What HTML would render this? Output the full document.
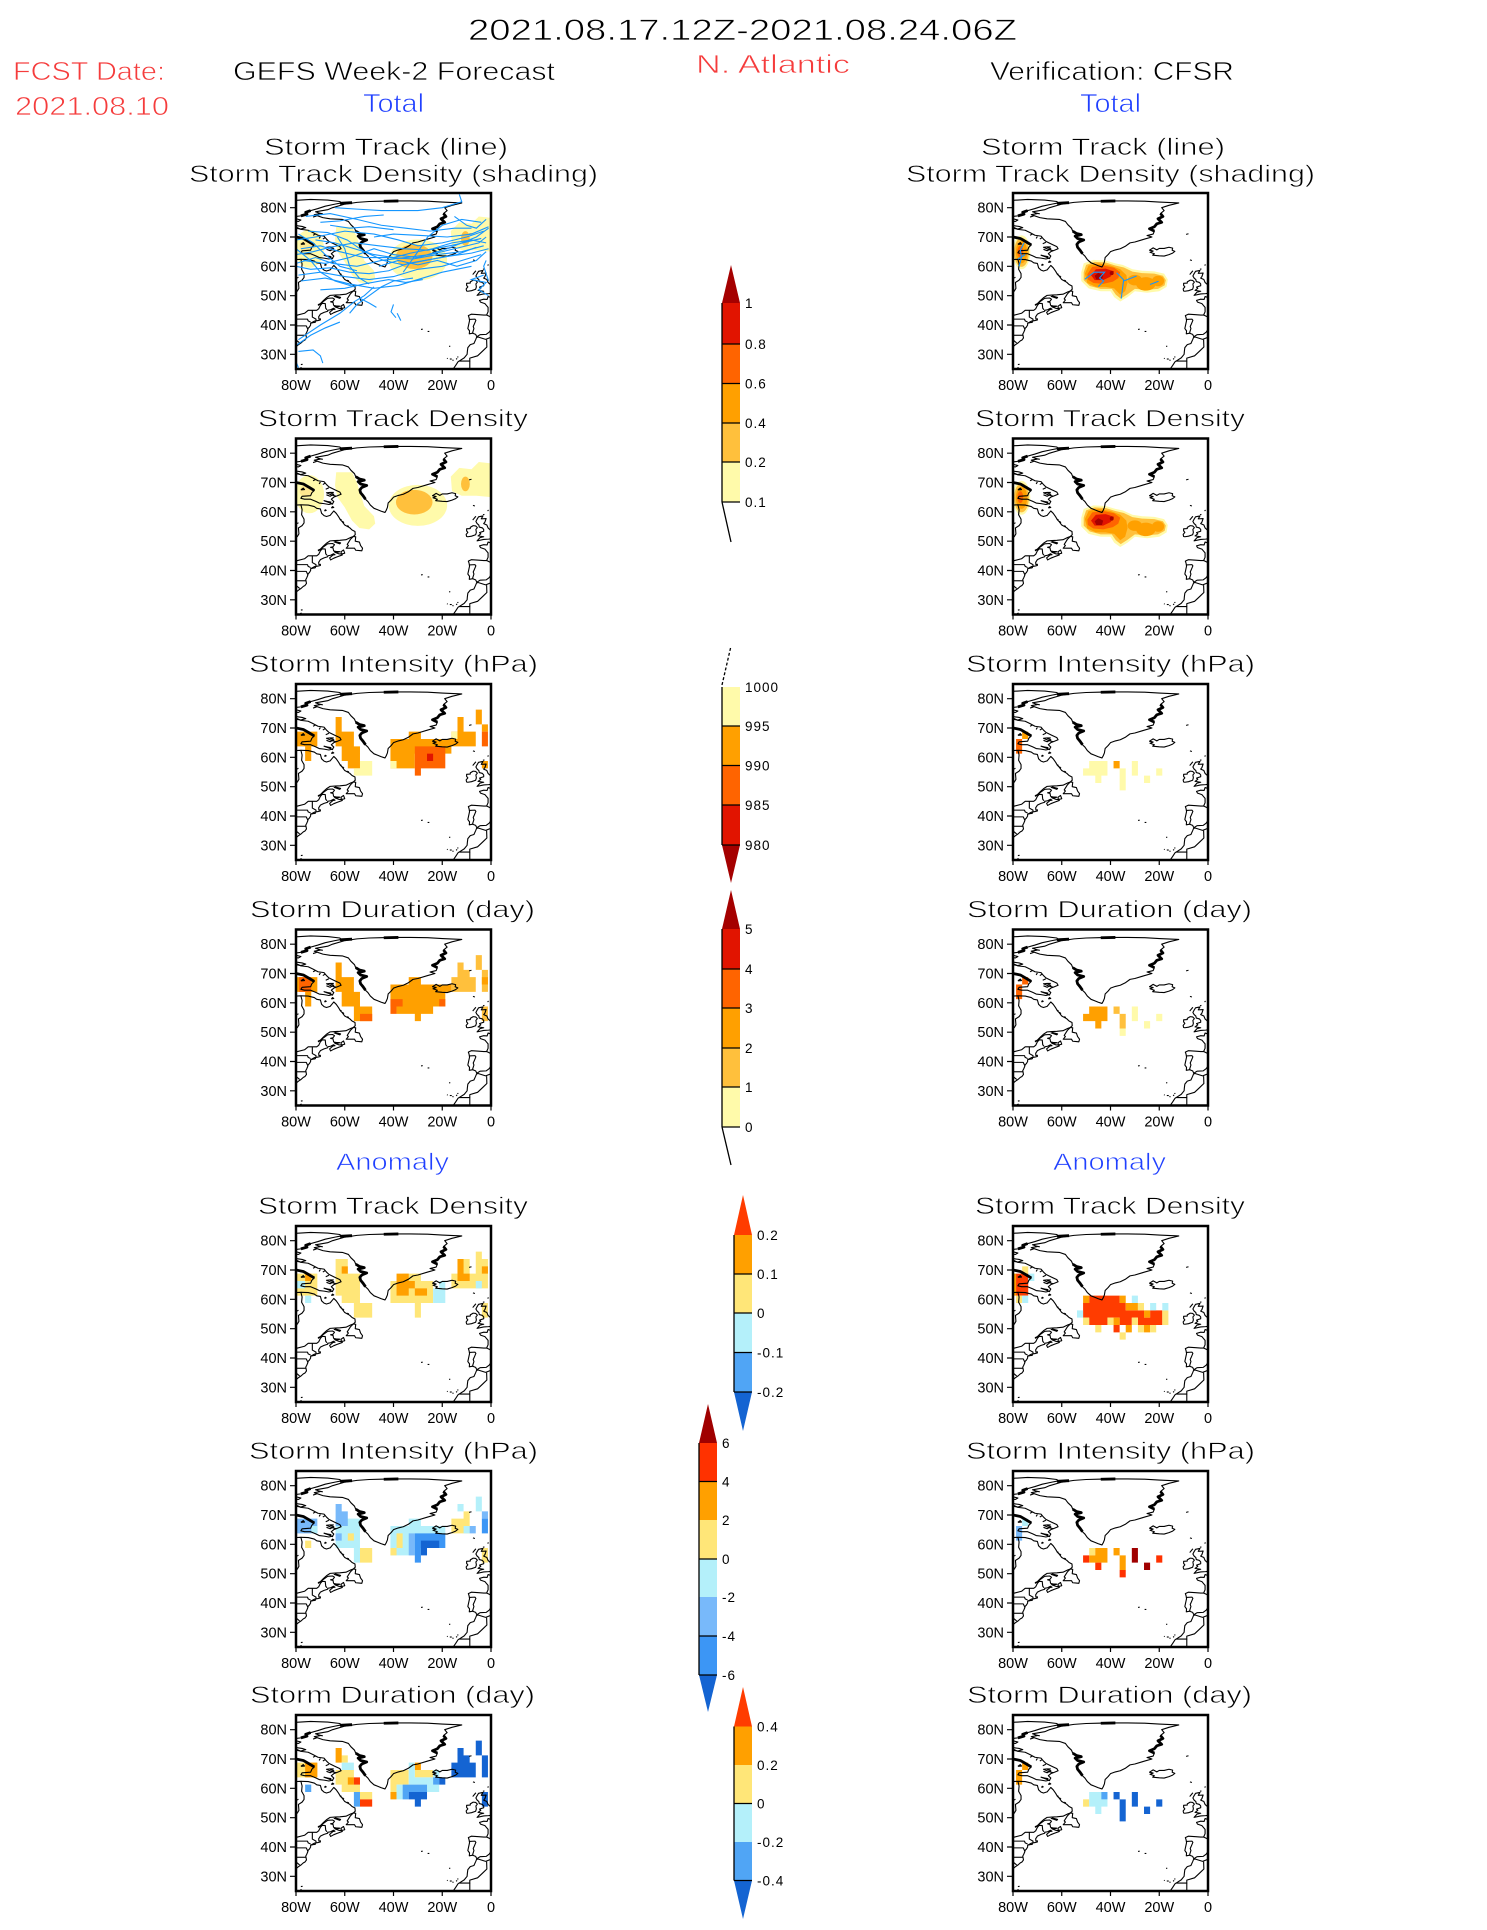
<!DOCTYPE html>
<html><head><meta charset="utf-8"><style>
html,body{margin:0;padding:0;background:#fff}
svg text{font-family:"Liberation Sans",sans-serif}
.hd{stroke:#fff;stroke-width:0.7px}
.fr{fill:none;stroke:#000;stroke-width:2.5}
.tk{stroke:#000;stroke-width:1.2;fill:none}
.cst *{fill:none;stroke:#000;stroke-width:1.1;vector-effect:non-scaling-stroke;stroke-linejoin:round}
.cst .thk{stroke-width:2.8}
.trk *{fill:none;stroke:#1496ff;stroke-width:1.1;vector-effect:non-scaling-stroke}
.yl{font-size:14.5px;text-anchor:end}
.xl{font-size:14.5px;text-anchor:middle}
.cbl{font-size:13.5px;letter-spacing:1px}
.cbk{stroke:#000;stroke-width:1.3;fill:none}
</style></head><body>
<svg width="1487" height="1925" viewBox="0 0 1487 1925" xmlns="http://www.w3.org/2000/svg">
<rect width="1487" height="1925" fill="#fff"/>
<defs>
<g id="coast" class="cst">
<polygon points="-43.5,-59.8 -45,-60.2 -46.5,-60.7 -48,-61.2 -49.5,-62.3 -50.5,-63.5 -51.5,-64.3 -52.5,-65.5 -53.5,-66.5 -53.8,-67.5 -53,-68.3 -51,-69 -53.5,-69.5 -54.5,-70.3 -52,-70.8 -54,-71.2 -55.5,-72 -56,-73 -57.5,-74.2 -58.5,-75.3 -61,-76 -66,-76.2 -69,-76.6 -72.5,-77.6 -70,-78 -72,-78.6 -67,-79.3 -65,-80 -60,-81.2 -55,-81.8 -50,-82.1 -45,-82.2 -40,-82.3 -33,-82.3 -26,-82.2 -20,-81.9 -12,-81.6 -16,-80.8 -19,-80 -18,-79 -19.5,-78 -18.5,-77 -20.5,-76.2 -19,-75 -21,-74.5 -22,-73.5 -24,-72.8 -22,-72 -22.5,-71 -25,-70.5 -23,-70 -26,-69.3 -30,-68.3 -32,-68 -34,-66.8 -36,-66 -38,-65.6 -40,-65 -41,-64 -42.2,-63 -42.5,-61.5 -43,-60.5"/>
<polyline class="thk" points="-51.5,-64.3 -52.5,-65.5 -53.5,-66.5 -53.8,-67.5 -53,-68.3 -51,-69 -53.5,-69.5 -54.5,-70.3 -52,-70.8 -54,-71.2 -55.5,-72"/>
<polyline class="thk" points="-19.5,-78 -18.5,-77 -20.5,-76.2 -19,-75 -21,-74.5 -22,-73.5 -24,-72.8 -22,-72"/>
<polyline class="thk" points="-62,-81.5 -57,-81.7"/>
<polyline class="thk" points="-44,-82.2 -38,-82.3"/>
<polyline class="thk" points="-74,-79 -76,-78.4 -75.5,-77.8 -78,-77.2"/>
<polyline points="-80,-82.5 -74,-82.8 -67,-82.6 -62,-82.1 -61.5,-81.6 -64,-81.2 -68,-80.5 -71,-79.7 -74,-79 -76,-78.4 -75.5,-77.8 -78,-77.2 -80,-77"/>
<polyline points="-80,-76.2 -78,-75.8 -79,-75.3 -80,-75.4"/>
<polyline points="-80,-73.9 -77.5,-73.6 -76,-73.2 -78,-72.7 -80,-73"/>
<polyline points="-80,-73.4 -78,-72.6 -75,-72.3 -73,-71.5 -71,-70.6 -68.5,-70.3 -67.5,-69.3 -66.5,-68.5 -64,-67.5 -62,-66.7 -61.5,-66 -63,-65.5 -64.5,-65 -65.5,-64.3 -64.5,-63.5 -65,-62.8 -66.5,-62.5 -68.5,-62.8 -70.5,-63 -72,-63.6 -74,-64.3 -76.5,-64.3 -78,-64.6 -77.5,-65.3 -74,-65.5 -73.5,-66.5 -72.5,-67.3 -74.5,-68.3 -77,-69.5 -80,-70"/>
<polyline class="thk" points="-80,-70 -77,-69.5 -74.5,-68.3 -72.5,-67.3"/>
<polyline points="-66,-66.5 -64.5,-66 -66,-65.3 -67.5,-65.8"/>
<polyline points="-64.8,-62.6 -66.5,-63.2 -68.5,-63.8 -67,-63.5 -65.5,-63.3"/>
<polyline points="-63.5,-65.3 -65.5,-65.8 -67.5,-66.5 -66,-66.6 -64.5,-66.6"/>
<polyline points="-65.5,-61.3 -64.5,-61.5 -65,-61.8 -65.5,-61.3"/>
<polyline points="-68.3,-60.3 -67.6,-60.5 -68,-60.7 -68.3,-60.3"/>
<polyline points="-78,-67.5 -76.5,-67.6 -77,-68.1 -78,-67.5"/>
<polyline points="-74.5,-67.8 -74,-68.1"/>
<polyline points="-70,-70.2 -70.5,-69.5"/><polyline points="-68,-69.8 -69,-69.3"/><polyline points="-72,-71 -73,-70.6"/><polyline points="-66.5,-68.2 -67.8,-67.7"/>
<polyline points="-61,-56.8 -60.3,-56.3"/><polyline points="-62,-57.5 -61.3,-57.2"/><polyline points="-59,-55.3 -58.3,-55"/>
<polyline points="-79,-56.3 -79.5,-56"/>
<polyline points="-71,-78.2 -69,-77.9"/><polyline points="-73,-76.8 -71.5,-77.2"/>
<polyline points="-80,-62.3 -78,-62.4 -77.5,-60.8 -77.7,-59 -76.7,-57.5 -76.7,-56.2 -77.5,-55.3 -79,-54.5 -78.8,-52.5 -79.5,-51.5 -80,-51.4"/>
<polyline points="-78,-62.4 -75,-62.3 -72.5,-61.8 -71.5,-61.2 -70,-61 -69.5,-59.5 -68.5,-58.7 -67.5,-58.4 -66,-58.8 -65,-59.8 -64.5,-60.3 -63.5,-59.5 -62.5,-58.3 -61.8,-57.3 -61,-56.6 -60,-55.5 -58,-54.6 -57,-53.8 -55.8,-53.3 -55.7,-52.2 -56.5,-51.6 -57.5,-51.3 -59.5,-50.5 -62,-50.3 -64,-50.2 -66,-50.1 -67.5,-49.3 -68.8,-48.3 -70,-47.3 -71,-46.9"/>
<polyline points="-71,-46.7 -70,-47.1 -69,-47.9 -67,-49.1 -65,-49.2 -64.2,-48.8 -64.8,-48.1 -65.8,-47.9 -64.8,-47.7 -64.6,-46.8 -64,-46.2 -62.5,-45.7 -61.2,-45.6 -61,-45.3 -63,-44.7 -64.5,-44.2 -65.8,-43.6 -66.2,-44.3 -64.8,-45.3 -64,-45.4 -64.6,-45.7 -65.8,-45.2 -67,-45 -67,-44.7 -68.5,-44.3 -70,-43.7 -70.7,-42.8 -70.6,-42 -70,-42.1 -70,-41.7 -71,-41.5 -72.5,-41.3 -74,-40.6 -74,-40 -74.5,-39.3 -75,-38.9 -75.2,-38.3 -75.6,-37.5 -76,-36.9 -75.7,-35.6 -76.3,-34.9 -77,-34.6 -77.9,-33.9 -79,-33.3 -80,-32.6"/>
<polyline points="-61.4,-45.6 -60,-45.9 -60.5,-47 -61.5,-46.4 -61.4,-45.6"/>
<polygon points="-59.4,-47.6 -58.5,-48.5 -59,-48.9 -57.7,-50.6 -56.5,-51.6 -55.5,-51.5 -55.7,-50 -54,-49.7 -53.5,-48.5 -52.7,-47.6 -53,-46.7 -54,-46.8 -55.5,-46.9 -56,-47.6"/>
<polyline points="-64.4,-46.6 -63,-46.2 -62,-46.4 -63.5,-46.5 -64.4,-46.6"/>
<polyline points="-64.5,-49.8 -62,-49.1 -61.7,-49.4 -64,-49.9"/>
<polyline points="-74,-40.6 -72,-41 -72.6,-40.8"/>
<polyline points="-78,-26.5 -77.3,-26.6"/><polyline points="-78.3,-25.3 -77.7,-25.5"/>
<polyline points="-79.8,-43.3 -76.5,-44 -75,-45 -71.5,-45 -70.7,-45.5 -70,-46.7 -69.2,-47.4 -68,-47.3 -67.8,-45.7 -67.3,-45.2"/>
<polyline points="-79.8,-42 -75.3,-42 -75,-41.4 -74,-41"/>
<polyline points="-73.3,-45 -73.3,-42.7 -71.8,-42 -71.8,-41.3"/>
<polyline points="-80,-39.7 -75.8,-39.7 -75.1,-38.5"/>
<polyline points="-80,-36.5 -75.9,-36.5"/>
<polyline points="-80,-34.9 -78.5,-33.9"/>
<polygon points="-24,-65.5 -22.5,-66.3 -21,-65.6 -20,-66.1 -18,-66.1 -16,-66.5 -14.5,-66.2 -14.7,-65.5 -13.6,-65.1 -14.5,-64.5 -16,-64 -18,-63.5 -20,-63.6 -22.7,-63.8 -22,-64.3 -23.8,-64.8 -22.5,-65.2"/>
<polygon points="-10,-51.6 -9.5,-51.5 -8,-51.7 -6.3,-52.2 -6,-53 -6.2,-54 -5.6,-54.6 -6.3,-55.2 -7.3,-55.3 -8.5,-54.7 -8.5,-54.3 -10,-54.2 -10,-53.5 -9.5,-53 -10.2,-52.3"/>
<polyline points="0,-50.8 -1,-50.7 -3,-50.6 -5.7,-50.1 -4.5,-51.2 -3,-51.5 -5.3,-51.8 -4.2,-52.5 -4.7,-52.9 -3,-53.4 -3,-54 -3.5,-54.5 -4.8,-54.8 -5,-55.5 -5.7,-56 -6.2,-56.7 -5.7,-57.5 -5.1,-58.3 -3.3,-58.6 -4,-57.6 -2,-57.7 -2.5,-56.5 -3,-56 -1.7,-55.5 -1.2,-54.5 0,-53.6"/>
<polyline points="0,-49.4 -1.2,-49.7 -1.6,-48.7 -3,-48.8 -4.7,-48.4 -4.3,-47.8 -2.5,-47.3 -2,-46.8 -1.2,-46 -1.2,-44.5 -1.8,-43.4 -3,-43.4 -5,-43.5 -8,-43.7 -9.3,-43.2 -9,-42.5 -8.8,-41.5 -9.5,-38.8 -8.8,-38 -8.9,-37 -7.5,-37.2 -6.3,-36.8 -5.8,-36 -4.5,-36.7 -2,-36.8 -0.7,-37.6 0,-38.5"/>
<polyline points="-1.8,-43.4 0,-42.7"/>
<polyline points="-8.9,-41.9 -6.6,-42 -6.2,-41.6 -6.9,-40.2 -7.3,-39.5 -7,-38.8 -7.5,-37.5 -7.4,-37.2"/>
<polyline points="0,-35.8 -2.2,-35.1 -5.3,-35.9 -5.9,-35.8 -6.3,-35 -7,-33.7 -8.5,-33.3 -9.5,-32.3 -9.7,-31 -9.8,-30 -11,-28.8 -12.5,-28 -13.5,-27.5 -14.5,-26.2 -15.5,-25"/>
<polyline points="-1.8,-35 -1.7,-32.5 -3.7,-30.9 -5.5,-29.5 -8.7,-28.7 -8.7,-27.7 -13.2,-27.7"/>
<polyline points="-8.7,-27.7 -8.7,-25"/>
<polyline points="-18,-28.7 -17.8,-28.5"/><polyline points="-16.9,-28.4 -16.1,-28.4"/><polyline points="-15.8,-28.1 -15.4,-27.9"/><polyline points="-14.3,-28.3 -13.9,-28.6"/><polyline points="-13.8,-29 -13.4,-29.2"/>
<polyline points="-17.2,-32.7 -16.7,-32.8"/>
<polyline points="-26,-37.8 -25.3,-37.8"/><polyline points="-28.7,-38.5 -28,-38.6"/>
<polyline points="-7.4,-62.2 -6.6,-62"/><polyline points="-1.4,-60.3 -1,-60.6"/><polyline points="-3.3,-59 -2.7,-59.1"/>
<polyline points="-9,-70.9 -8,-71.1"/><polyline points="-7.5,-57.2 -6.2,-58.5"/>
</g>
<g id="dl">
<ellipse cx="-74.5" cy="-66" rx="6" ry="6.5" fill="#fffaaa"/>
<polygon fill="#fffaaa" points="-63.5,-73.5 -57,-73.5 -55,-70 -53.5,-66 -52,-62 -48,-58.5 -47.5,-56 -50,-54 -54,-54.5 -57,-57 -60,-61.5 -63,-65 -64,-69"/>
<ellipse cx="-30" cy="-62.2" rx="12" ry="7" fill="#fffaaa"/>
<polygon fill="#fffaaa" points="-16.5,-72 -13,-75 -8,-74.5 -5,-77 0,-76.5 0,-65 -6,-65.5 -12,-65.5 -16,-67"/>
<ellipse cx="-31.5" cy="-63.3" rx="7.5" ry="4.2" fill="#ffc03c"/>
<ellipse cx="-10.5" cy="-69.5" rx="1.8" ry="2.5" fill="#ffc03c"/>
<ellipse cx="-76" cy="-67" rx="2.5" ry="2" fill="#ffe890"/>
</g>
<g id="dr">
<polygon fill="#fffaaa" points="-52,-58 -51,-61 -47,-62.2 -42,-62 -38,-61 -35,-60.5 -31,-59 -27,-58.5 -22,-58.3 -18,-57.5 -16.5,-55.5 -17,-53 -20,-51.5 -25,-51 -30,-51.5 -33,-49.5 -36,-48 -38.5,-49.5 -40,-51.5 -44,-51.5 -49,-52.5 -52,-55"/>
<polygon fill="#ffc03c" points="-51,-58 -50,-60.5 -46.5,-61.5 -42,-61.3 -38,-60.3 -34.5,-59.6 -31,-58.2 -27,-57.7 -22,-57.5 -18.5,-56.8 -17.3,-55.3 -17.8,-53.5 -20.5,-52.3 -25,-52 -30,-52.3 -33,-50.5 -35.8,-49 -37.8,-50.3 -39.5,-52.3 -44,-52.3 -48.5,-53.3 -51,-55.3"/>
<polygon fill="#ffa000" points="-50.5,-57.5 -49,-60.3 -45,-61 -40,-60.3 -36,-59 -33.5,-57 -33,-54.5 -34,-51.5 -36,-50.3 -38.5,-52.5 -42,-53 -46,-53 -49.5,-54.3"/>
<ellipse cx="-25.5" cy="-54" rx="4" ry="2.3" fill="#ffa000"/>
<ellipse cx="-20.5" cy="-55" rx="2.5" ry="1.8" fill="#ffa000"/>
<ellipse cx="-30" cy="-55.3" rx="3" ry="1.8" fill="#ffa000"/>
<polygon fill="#ff6400" points="-49.5,-57.3 -47.5,-59.8 -43,-60.3 -38.5,-59.5 -36,-58 -36.8,-56 -39,-54.8 -43,-54 -47,-54.3 -49.3,-55.5"/>
<polygon fill="#e11400" points="-48,-57 -46,-59 -42,-59.2 -38.5,-58.3 -40,-56.5 -43,-55.3 -46.5,-55.3"/>
<polygon fill="#a50000" points="-46.5,-56.8 -45,-57.8 -43,-57 -43.5,-55.5 -45.8,-55.5"/>
<ellipse cx="-39.5" cy="-57.7" rx="0.8" ry="0.7" fill="#a50000"/>
<ellipse cx="-76.5" cy="-64.8" rx="3.6" ry="5.8" fill="#fffaaa"/>
<ellipse cx="-76.5" cy="-64.8" rx="3" ry="5" fill="#ffc03c"/>
<ellipse cx="-76.5" cy="-64.8" rx="2.3" ry="3.8" fill="#ffa000"/>
<ellipse cx="-77" cy="-65" rx="1.2" ry="2" fill="#ff6400"/>
</g>
</defs>

<!-- HEADER -->
<g class="hd">
<text x="468" y="40" font-size="30" textLength="549" lengthAdjust="spacingAndGlyphs">2021.08.17.12Z-2021.08.24.06Z</text>
<text x="13" y="80" font-size="26" fill="#f53c3c" textLength="152" lengthAdjust="spacingAndGlyphs">FCST Date:</text>
<text x="15" y="115" font-size="26" fill="#f53c3c" textLength="154" lengthAdjust="spacingAndGlyphs">2021.08.10</text>
<text x="233" y="80" font-size="26" textLength="322" lengthAdjust="spacingAndGlyphs">GEFS Week-2 Forecast</text>
<text x="363" y="112" font-size="26" fill="#2040ff" textLength="61" lengthAdjust="spacingAndGlyphs">Total</text>
<text x="696" y="73" font-size="26" fill="#f53c3c" textLength="154" lengthAdjust="spacingAndGlyphs">N. Atlantic</text>
<text x="990" y="80" font-size="26" textLength="244" lengthAdjust="spacingAndGlyphs">Verification: CFSR</text>
<text x="1080" y="112" font-size="26" fill="#2040ff" textLength="61" lengthAdjust="spacingAndGlyphs">Total</text>

<text x="264" y="155" font-size="24.5" textLength="244" lengthAdjust="spacingAndGlyphs">Storm Track (line)</text>
<text x="189" y="182" font-size="24.5" textLength="409" lengthAdjust="spacingAndGlyphs">Storm Track Density (shading)</text>
<text x="981" y="155" font-size="24.5" textLength="244" lengthAdjust="spacingAndGlyphs">Storm Track (line)</text>
<text x="906" y="182" font-size="24.5" textLength="409" lengthAdjust="spacingAndGlyphs">Storm Track Density (shading)</text>

<text x="258" y="426.5" font-size="24.5" textLength="270" lengthAdjust="spacingAndGlyphs">Storm Track Density</text>
<text x="975" y="426.5" font-size="24.5" textLength="270" lengthAdjust="spacingAndGlyphs">Storm Track Density</text>
<text x="249" y="672" font-size="24.5" textLength="289" lengthAdjust="spacingAndGlyphs">Storm Intensity (hPa)</text>
<text x="966" y="672" font-size="24.5" textLength="289" lengthAdjust="spacingAndGlyphs">Storm Intensity (hPa)</text>
<text x="250" y="917.5" font-size="24.5" textLength="285" lengthAdjust="spacingAndGlyphs">Storm Duration (day)</text>
<text x="967" y="917.5" font-size="24.5" textLength="285" lengthAdjust="spacingAndGlyphs">Storm Duration (day)</text>
<text x="336" y="1170" font-size="24.5" fill="#2040ff" textLength="113" lengthAdjust="spacingAndGlyphs">Anomaly</text>
<text x="1053" y="1170" font-size="24.5" fill="#2040ff" textLength="113" lengthAdjust="spacingAndGlyphs">Anomaly</text>
<text x="258" y="1214" font-size="24.5" textLength="270" lengthAdjust="spacingAndGlyphs">Storm Track Density</text>
<text x="975" y="1214" font-size="24.5" textLength="270" lengthAdjust="spacingAndGlyphs">Storm Track Density</text>
<text x="249" y="1459" font-size="24.5" textLength="289" lengthAdjust="spacingAndGlyphs">Storm Intensity (hPa)</text>
<text x="966" y="1459" font-size="24.5" textLength="289" lengthAdjust="spacingAndGlyphs">Storm Intensity (hPa)</text>
<text x="250" y="1703" font-size="24.5" textLength="285" lengthAdjust="spacingAndGlyphs">Storm Duration (day)</text>
<text x="967" y="1703" font-size="24.5" textLength="285" lengthAdjust="spacingAndGlyphs">Storm Duration (day)</text>
</g>

<!-- ROW 1 LEFT -->
<g transform="translate(296,193)">
<svg width="195" height="176" viewBox="-80 -85 80 60" preserveAspectRatio="none">
<use href="#dl"/>
<use href="#coast"/>
<g class="trk">
<polyline points="-80,-61 -72,-63 -65,-61 -55,-60 -45,-62 -35,-63 -25,-64 -15,-66 -5,-68 -2,-70"/>
<polyline points="-78,-66 -70,-67 -62,-65 -52,-63 -42,-63 -32,-62.5 -22,-64 -12,-65 -3,-67"/>
<polyline points="-80,-69 -72,-70 -60,-72 -48,-71 -38,-69 -30,-67 -20,-68 -10,-70 -3,-72"/>
<polyline points="-76,-77 -66,-78 -55,-76 -45,-74 -35,-73 -25,-72 -15,-73 -8,-73"/>
<polyline points="-64,-80 -55,-79.5 -45,-79 -30,-79 -20,-80 -12,-82 -13,-84.5"/>
<polyline points="-79,-57 -70,-58 -60,-56.5 -50,-55.5 -40,-56.5 -30,-59 -20,-60 -12,-62 -4,-64"/>
<polyline points="-78,-55 -68,-56 -58,-54 -48,-52.5 -38,-53.5 -28,-56 -20,-58 -8,-60"/>
<polyline points="-77,-62 -68,-61 -58,-63 -48,-66 -40,-64 -30,-63 -18,-66 -6,-70 -1,-73"/>
<polyline points="-80,-64 -73,-65 -66,-66.5 -56,-68 -46,-67 -36,-66 -26,-65.5 -14,-67.5 -4,-69.5"/>
<polyline points="-75,-72 -67,-71.5 -59,-69 -52,-65 -44,-62 -36,-60.5 -27,-62 -17,-63.5 -8,-64.5 -1,-66"/>
<polyline points="-80,-60 -74,-59 -66,-59.5 -58,-58 -50,-57.5 -42,-58.5 -34,-61 -24,-62.5 -14,-64 -6,-66.5"/>
<polyline points="-79,-35 -70,-40 -62,-44 -56,-48 -52,-50 -48,-53"/>
<polyline points="-80,-33 -74,-36.5 -68,-39 -62,-41"/>
<polyline points="-79,-31 -73,-31.5 -70,-29.5 -69,-27"/>
<polyline points="-80,-27.5 -79,-25.5"/>
<polyline points="-53.5,-49 -50,-47.5 -47,-46"/>
<polyline points="-40,-47 -41,-44.5 -39,-42.5"/>
<polyline points="-38.5,-44 -37,-41.5"/>
<polyline points="-58,-44 -55,-47 -50,-50 -45,-53 -40,-55 -32,-56"/>
<polyline points="-70,-52 -60,-52.5 -52,-54 -42,-55.5 -35,-54.5 -28,-55.5"/>
<polyline points="-3,-57 -8,-55.5 -2,-54.5 -5,-52 -1,-50"/>
<polyline points="-2,-76 -6,-73 -10,-74 -15,-77"/>
<polyline points="-48,-70 -40,-71 -28,-70.5 -18,-70 -8,-71 -1,-73.5"/>
<polyline points="-66,-74 -58,-73 -50,-73.5 -40,-72.5"/>
<polyline points="-72,-69 -64,-68 -56,-66 -48,-64 -40,-63 -33,-64.5 -24,-66 -16,-68 -8,-69 -2,-68"/>
<polyline points="-63,-70 -60,-66 -58,-60 -54,-56 -50,-54"/>
<polyline points="-80,-66 -74,-62 -70,-58 -64,-55 -56,-53"/>
<polyline points="-46,-60 -38,-62 -30,-60.5 -22,-62 -14,-60 -6,-62 -2,-65"/>
<polyline points="-79,-71 -73,-68 -68,-64 -62,-60 -55,-58.5"/>
<polyline points="-36,-58 -30,-65 -26,-70 -20,-74 -12,-76 -4,-75"/>
<polyline points="-1,-55 -3,-60 -2,-62"/>
<polyline points="-70,-75 -62,-75.5 -52,-77 -44,-77.5"/>
</g>
</svg>
<rect class="fr" width="195" height="176"/>
<path class="tk" d="M-6 14.67H0M-6 44H0M-6 73.33H0M-6 102.67H0M-6 132H0M-6 161.33H0M0 176V181M48.75 176V181M97.5 176V181M146.25 176V181M195 176V181"/>
<g class="yl"><text x="-9" y="19.7">80N</text><text x="-9" y="49">70N</text><text x="-9" y="78.3">60N</text><text x="-9" y="107.7">50N</text><text x="-9" y="137">40N</text><text x="-9" y="166.3">30N</text></g>
<g class="xl"><text x="0" y="197">80W</text><text x="48.75" y="197">60W</text><text x="97.5" y="197">40W</text><text x="146.25" y="197">20W</text><text x="195" y="197">0</text></g>
</g>

<!-- ROW 1 RIGHT -->
<g transform="translate(1013,193)">
<svg width="195" height="176" viewBox="-80 -85 80 60" preserveAspectRatio="none">
<use href="#dr"/>
<use href="#coast"/>
<g class="trk">
<polyline points="-77.5,-60 -76.5,-63 -77,-65.5 -75.5,-68"/>
<polyline points="-78,-62.5 -75,-64"/>
<polyline points="-50.5,-55.6 -46.7,-58 -42.4,-58 -44.5,-56 -42.8,-55 -45,-53.1"/>
<polyline points="-37.5,-57.8 -34.6,-55.4 -35.6,-49"/>
<polyline points="-34.6,-55 -29.3,-56.7"/>
<polyline points="-23.8,-53.8 -20.3,-54.9"/>
</g>
</svg>
<rect class="fr" width="195" height="176"/>
<path class="tk" d="M-6 14.67H0M-6 44H0M-6 73.33H0M-6 102.67H0M-6 132H0M-6 161.33H0M0 176V181M48.75 176V181M97.5 176V181M146.25 176V181M195 176V181"/>
<g class="yl"><text x="-9" y="19.7">80N</text><text x="-9" y="49">70N</text><text x="-9" y="78.3">60N</text><text x="-9" y="107.7">50N</text><text x="-9" y="137">40N</text><text x="-9" y="166.3">30N</text></g>
<g class="xl"><text x="0" y="197">80W</text><text x="48.75" y="197">60W</text><text x="97.5" y="197">40W</text><text x="146.25" y="197">20W</text><text x="195" y="197">0</text></g>
</g>

<!-- ROW 2 LEFT -->
<g transform="translate(296,438.5)">
<svg width="195" height="176" viewBox="-80 -85 80 60" preserveAspectRatio="none">
<use href="#dl"/>
<use href="#coast"/>
</svg>
<rect class="fr" width="195" height="176"/>
<path class="tk" d="M-6 14.67H0M-6 44H0M-6 73.33H0M-6 102.67H0M-6 132H0M-6 161.33H0M0 176V181M48.75 176V181M97.5 176V181M146.25 176V181M195 176V181"/>
<g class="yl"><text x="-9" y="19.7">80N</text><text x="-9" y="49">70N</text><text x="-9" y="78.3">60N</text><text x="-9" y="107.7">50N</text><text x="-9" y="137">40N</text><text x="-9" y="166.3">30N</text></g>
<g class="xl"><text x="0" y="197">80W</text><text x="48.75" y="197">60W</text><text x="97.5" y="197">40W</text><text x="146.25" y="197">20W</text><text x="195" y="197">0</text></g>
</g>

<!-- ROW 2 RIGHT -->
<g transform="translate(1013,438.5)">
<svg width="195" height="176" viewBox="-80 -85 80 60" preserveAspectRatio="none">
<use href="#dr"/>
<use href="#coast"/>
</svg>
<rect class="fr" width="195" height="176"/>
<path class="tk" d="M-6 14.67H0M-6 44H0M-6 73.33H0M-6 102.67H0M-6 132H0M-6 161.33H0M0 176V181M48.75 176V181M97.5 176V181M146.25 176V181M195 176V181"/>
<g class="yl"><text x="-9" y="19.7">80N</text><text x="-9" y="49">70N</text><text x="-9" y="78.3">60N</text><text x="-9" y="107.7">50N</text><text x="-9" y="137">40N</text><text x="-9" y="166.3">30N</text></g>
<g class="xl"><text x="0" y="197">80W</text><text x="48.75" y="197">60W</text><text x="97.5" y="197">40W</text><text x="146.25" y="197">20W</text><text x="195" y="197">0</text></g>
</g>

<!-- ROW 3 LEFT -->
<g transform="translate(296,684)">
<svg width="195" height="176" viewBox="-80 -85 80 60" preserveAspectRatio="none">
<path fill="#ffa000" d="M-80 -68.75H-71.25V-63.75H-80zM-76.25 -63.75H-73.75V-58.75H-76.25zM-63.75 -73.75H-61.25V-68.75H-63.75zM-63.75 -68.75H-56.25V-63.75H-63.75zM-61.25 -63.75H-53.75V-58.75H-61.25zM-58.75 -61.25H-53.75V-56.25H-58.75zM-33.75 -68.75H-28.75V-66.25H-33.75zM-41.25 -66.25H-16.25V-61.25H-41.25zM-41.25 -61.25H-31.25V-56.25H-41.25zM-16.25 -68.75H-6.25V-63.75H-16.25zM-13.75 -73.75H-11.25V-68.75H-13.75zM-6.25 -76.25H-3.75V-71.25H-6.25zM-3.75 -71.25H-1.25V-68.75H-3.75zM-3.75 -58.75H-1.25V-56.25H-3.75z"/>
<path fill="#fffaaa" d="M-53.75 -58.75H-48.75V-53.75H-53.75zM-56.25 -56.25H-53.75V-53.75H-56.25zM-41.25 -58.75H-38.75V-56.25H-41.25zM-16.25 -68.75H-13.75V-66.25H-16.25z"/>
<path fill="#ff6400" d="M-31.25 -63.75H-18.75V-56.25H-31.25zM-31.25 -56.25H-28.75V-53.75H-31.25zM-3.75 -68.75H-1.25V-63.75H-3.75z"/>
<path fill="#e11400" d="M-26.25 -61.25H-23.75V-58.75H-26.25z"/>
<use href="#coast"/>
</svg>
<rect class="fr" width="195" height="176"/>
<path class="tk" d="M-6 14.67H0M-6 44H0M-6 73.33H0M-6 102.67H0M-6 132H0M-6 161.33H0M0 176V181M48.75 176V181M97.5 176V181M146.25 176V181M195 176V181"/>
<g class="yl"><text x="-9" y="19.7">80N</text><text x="-9" y="49">70N</text><text x="-9" y="78.3">60N</text><text x="-9" y="107.7">50N</text><text x="-9" y="137">40N</text><text x="-9" y="166.3">30N</text></g>
<g class="xl"><text x="0" y="197">80W</text><text x="48.75" y="197">60W</text><text x="97.5" y="197">40W</text><text x="146.25" y="197">20W</text><text x="195" y="197">0</text></g>
</g>

<!-- ROW 3 RIGHT -->
<g transform="translate(1013,684)">
<svg width="195" height="176" viewBox="-80 -85 80 60" preserveAspectRatio="none">
<path fill="#ff6400" d="M-78.75 -66.25H-76.25V-61.25H-78.75z"/>
<path fill="#ffa000" d="M-76.25 -68.75H-73.75V-66.25H-76.25zM-38.75 -58.75H-36.25V-56.25H-38.75z"/>
<path fill="#fffaaa" d="M-51.25 -56.25H-48.75V-53.75H-51.25zM-48.75 -58.75H-41.25V-53.75H-48.75zM-46.25 -53.75H-43.75V-51.25H-46.25zM-36.25 -56.25H-33.75V-48.75H-36.25zM-31.25 -58.75H-28.75V-53.75H-31.25zM-26.25 -53.75H-23.75V-51.25H-26.25zM-21.25 -56.25H-18.75V-53.75H-21.25z"/>
<use href="#coast"/>
</svg>
<rect class="fr" width="195" height="176"/>
<path class="tk" d="M-6 14.67H0M-6 44H0M-6 73.33H0M-6 102.67H0M-6 132H0M-6 161.33H0M0 176V181M48.75 176V181M97.5 176V181M146.25 176V181M195 176V181"/>
<g class="yl"><text x="-9" y="19.7">80N</text><text x="-9" y="49">70N</text><text x="-9" y="78.3">60N</text><text x="-9" y="107.7">50N</text><text x="-9" y="137">40N</text><text x="-9" y="166.3">30N</text></g>
<g class="xl"><text x="0" y="197">80W</text><text x="48.75" y="197">60W</text><text x="97.5" y="197">40W</text><text x="146.25" y="197">20W</text><text x="195" y="197">0</text></g>
</g>

<!-- ROW 4 LEFT -->
<g transform="translate(296,929.5)">
<svg width="195" height="176" viewBox="-80 -85 80 60" preserveAspectRatio="none">
<path fill="#ffa000" d="M-80 -68.75H-71.25V-63.75H-80zM-76.25 -63.75H-73.75V-58.75H-76.25zM-63.75 -73.75H-61.25V-68.75H-63.75zM-63.75 -68.75H-56.25V-63.75H-63.75zM-61.25 -63.75H-53.75V-58.75H-61.25zM-56.25 -58.75H-48.75V-53.75H-56.25zM-33.75 -68.75H-28.75V-66.25H-33.75zM-41.25 -66.25H-16.25V-63.75H-41.25zM-41.25 -63.75H-18.75V-58.75H-41.25zM-38.75 -58.75H-23.75V-56.25H-38.75zM-31.25 -56.25H-28.75V-53.75H-31.25z"/>
<path fill="#ff6400" d="M-78.75 -68.75H-73.75V-63.75H-78.75zM-53.75 -56.25H-48.75V-53.75H-53.75zM-41.25 -61.25H-38.75V-56.25H-41.25zM-38.75 -61.25H-36.25V-58.75H-38.75zM-21.25 -61.25H-18.75V-58.75H-21.25z"/>
<path fill="#ffc03c" d="M-16.25 -68.75H-6.25V-63.75H-16.25zM-13.75 -73.75H-11.25V-68.75H-13.75zM-11.25 -71.25H-8.75V-68.75H-11.25zM-6.25 -76.25H-3.75V-71.25H-6.25zM-3.75 -71.25H-1.25V-63.75H-3.75zM-3.75 -58.75H-1.25V-53.75H-3.75z"/>
<path fill="#ffa000" d="M-3.75 -68.75H-1.25V-66.25H-3.75z"/>
<use href="#coast"/>
</svg>
<rect class="fr" width="195" height="176"/>
<path class="tk" d="M-6 14.67H0M-6 44H0M-6 73.33H0M-6 102.67H0M-6 132H0M-6 161.33H0M0 176V181M48.75 176V181M97.5 176V181M146.25 176V181M195 176V181"/>
<g class="yl"><text x="-9" y="19.7">80N</text><text x="-9" y="49">70N</text><text x="-9" y="78.3">60N</text><text x="-9" y="107.7">50N</text><text x="-9" y="137">40N</text><text x="-9" y="166.3">30N</text></g>
<g class="xl"><text x="0" y="197">80W</text><text x="48.75" y="197">60W</text><text x="97.5" y="197">40W</text><text x="146.25" y="197">20W</text><text x="195" y="197">0</text></g>
</g>

<!-- ROW 4 RIGHT -->
<g transform="translate(1013,929.5)">
<svg width="195" height="176" viewBox="-80 -85 80 60" preserveAspectRatio="none">
<path fill="#ff6400" d="M-78.75 -66.25H-76.25V-61.25H-78.75zM-76.25 -68.75H-73.75V-66.25H-76.25z"/>
<path fill="#ffa000" d="M-48.75 -58.75H-41.25V-56.25H-48.75zM-51.25 -56.25H-41.25V-53.75H-51.25zM-46.25 -53.75H-43.75V-51.25H-46.25z"/>
<path fill="#ffc03c" d="M-38.75 -58.75H-36.25V-56.25H-38.75zM-36.25 -56.25H-33.75V-51.25H-36.25z"/>
<path fill="#fffaaa" d="M-36.25 -51.25H-33.75V-48.75H-36.25zM-31.25 -58.75H-28.75V-53.75H-31.25zM-26.25 -53.75H-23.75V-51.25H-26.25zM-21.25 -56.25H-18.75V-53.75H-21.25z"/>
<use href="#coast"/>
</svg>
<rect class="fr" width="195" height="176"/>
<path class="tk" d="M-6 14.67H0M-6 44H0M-6 73.33H0M-6 102.67H0M-6 132H0M-6 161.33H0M0 176V181M48.75 176V181M97.5 176V181M146.25 176V181M195 176V181"/>
<g class="yl"><text x="-9" y="19.7">80N</text><text x="-9" y="49">70N</text><text x="-9" y="78.3">60N</text><text x="-9" y="107.7">50N</text><text x="-9" y="137">40N</text><text x="-9" y="166.3">30N</text></g>
<g class="xl"><text x="0" y="197">80W</text><text x="48.75" y="197">60W</text><text x="97.5" y="197">40W</text><text x="146.25" y="197">20W</text><text x="195" y="197">0</text></g>
</g>

<!-- ROW 5 LEFT -->
<g transform="translate(296,1226)">
<svg width="195" height="176" viewBox="-80 -85 80 60" preserveAspectRatio="none">
<path fill="#ffe678" d="M-80 -68.75H-71.25V-61.25H-80zM-63.75 -73.75H-58.75V-68.75H-63.75zM-63.75 -68.75H-53.75V-61.25H-63.75zM-61.25 -61.25H-53.75V-58.75H-61.25zM-56.25 -58.75H-48.75V-53.75H-56.25zM-36.25 -68.75H-28.75V-66.25H-36.25zM-41.25 -66.25H-23.75V-58.75H-41.25zM-31.25 -58.75H-28.75V-53.75H-31.25zM-16.25 -68.75H-1.25V-63.75H-16.25zM-13.75 -73.75H-8.75V-68.75H-13.75zM-6.25 -76.25H-3.75V-68.75H-6.25zM-3.75 -73.75H-1.25V-68.75H-3.75zM-3.75 -58.75H-1.25V-53.75H-3.75z"/>
<path fill="#ffa000" d="M-76.25 -68.75H-73.75V-66.25H-76.25zM-61.25 -71.25H-58.75V-68.75H-61.25zM-38.75 -68.75H-33.75V-61.25H-38.75zM-33.75 -66.25H-31.25V-63.75H-33.75zM-31.25 -63.75H-26.25V-61.25H-31.25zM-13.75 -73.75H-11.25V-66.25H-13.75zM-11.25 -68.75H-8.75V-66.25H-11.25zM-3.75 -71.25H-1.25V-68.75H-3.75z"/>
<path fill="#b4f0fa" d="M-80 -66.25H-76.25V-63.75H-80zM-76.25 -61.25H-73.75V-58.75H-76.25zM-23.75 -63.75H-18.75V-58.75H-23.75zM-21.25 -66.25H-18.75V-63.75H-21.25zM-6.25 -66.25H-3.75V-63.75H-6.25z"/>
<use href="#coast"/>
</svg>
<rect class="fr" width="195" height="176"/>
<path class="tk" d="M-6 14.67H0M-6 44H0M-6 73.33H0M-6 102.67H0M-6 132H0M-6 161.33H0M0 176V181M48.75 176V181M97.5 176V181M146.25 176V181M195 176V181"/>
<g class="yl"><text x="-9" y="19.7">80N</text><text x="-9" y="49">70N</text><text x="-9" y="78.3">60N</text><text x="-9" y="107.7">50N</text><text x="-9" y="137">40N</text><text x="-9" y="166.3">30N</text></g>
<g class="xl"><text x="0" y="197">80W</text><text x="48.75" y="197">60W</text><text x="97.5" y="197">40W</text><text x="146.25" y="197">20W</text><text x="195" y="197">0</text></g>
</g>

<!-- ROW 5 RIGHT -->
<g transform="translate(1013,1226)">
<svg width="195" height="176" viewBox="-80 -85 80 60" preserveAspectRatio="none">
<path fill="#ff3c00" d="M-78.75 -68.75H-73.75V-61.25H-78.75zM-48.75 -61.25H-36.25V-58.75H-48.75zM-51.25 -58.75H-33.75V-56.25H-51.25zM-51.25 -56.25H-26.25V-53.75H-51.25zM-23.75 -56.25H-18.75V-53.75H-23.75zM-48.75 -53.75H-41.25V-51.25H-48.75zM-36.25 -53.75H-31.25V-51.25H-36.25zM-28.75 -53.75H-18.75V-51.25H-28.75zM-38.75 -51.25H-36.25V-48.75H-38.75z"/>
<path fill="#ffa000" d="M-80 -68.75H-78.75V-61.25H-80zM-51.25 -61.25H-48.75V-58.75H-51.25zM-36.25 -61.25H-33.75V-58.75H-36.25zM-33.75 -58.75H-28.75V-56.25H-33.75zM-26.25 -56.25H-23.75V-53.75H-26.25zM-38.75 -53.75H-36.25V-51.25H-38.75zM-33.75 -51.25H-31.25V-48.75H-33.75zM-26.25 -51.25H-23.75V-48.75H-26.25z"/>
<path fill="#ffe678" d="M-76.25 -71.25H-73.75V-68.75H-76.25zM-78.75 -61.25H-76.25V-58.75H-78.75zM-28.75 -58.75H-26.25V-56.25H-28.75zM-18.75 -56.25H-16.25V-51.25H-18.75zM-51.25 -53.75H-48.75V-51.25H-51.25zM-41.25 -53.75H-38.75V-51.25H-41.25zM-31.25 -53.75H-28.75V-51.25H-31.25zM-46.25 -51.25H-43.75V-48.75H-46.25zM-28.75 -51.25H-26.25V-48.75H-28.75zM-23.75 -51.25H-21.25V-48.75H-23.75zM-36.25 -48.75H-33.75V-46.25H-36.25z"/>
<path fill="#b4f0fa" d="M-73.75 -68.75H-71.25V-66.25H-73.75zM-76.25 -61.25H-73.75V-58.75H-76.25zM-31.25 -61.25H-28.75V-58.75H-31.25zM-23.75 -58.75H-21.25V-56.25H-23.75zM-18.75 -58.75H-16.25V-56.25H-18.75zM-53.75 -56.25H-51.25V-53.75H-53.75z"/>
<use href="#coast"/>
</svg>
<rect class="fr" width="195" height="176"/>
<path class="tk" d="M-6 14.67H0M-6 44H0M-6 73.33H0M-6 102.67H0M-6 132H0M-6 161.33H0M0 176V181M48.75 176V181M97.5 176V181M146.25 176V181M195 176V181"/>
<g class="yl"><text x="-9" y="19.7">80N</text><text x="-9" y="49">70N</text><text x="-9" y="78.3">60N</text><text x="-9" y="107.7">50N</text><text x="-9" y="137">40N</text><text x="-9" y="166.3">30N</text></g>
<g class="xl"><text x="0" y="197">80W</text><text x="48.75" y="197">60W</text><text x="97.5" y="197">40W</text><text x="146.25" y="197">20W</text><text x="195" y="197">0</text></g>
</g>

<!-- ROW 6 LEFT -->
<g transform="translate(296,1471)">
<svg width="195" height="176" viewBox="-80 -85 80 60" preserveAspectRatio="none">
<path fill="#b4f0fa" d="M-63.75 -68.75H-53.75V-58.75H-63.75zM-56.25 -58.75H-53.75V-53.75H-56.25zM-33.75 -68.75H-28.75V-66.25H-33.75zM-41.25 -66.25H-18.75V-58.75H-41.25zM-41.25 -58.75H-31.25V-56.25H-41.25z"/>
<path fill="#ffe678" d="M-76.25 -61.25H-73.75V-58.75H-76.25zM-58.75 -63.75H-56.25V-61.25H-58.75zM-53.75 -58.75H-48.75V-53.75H-53.75zM-38.75 -63.75H-36.25V-58.75H-38.75zM-41.25 -58.75H-38.75V-56.25H-41.25zM-16.25 -68.75H-8.75V-63.75H-16.25zM-11.25 -71.25H-8.75V-68.75H-11.25zM-3.75 -58.75H-1.25V-53.75H-3.75z"/>
<path fill="#b4f0fa" d="M-13.75 -73.75H-11.25V-71.25H-13.75zM-11.25 -66.25H-8.75V-63.75H-11.25zM-6.25 -76.25H-3.75V-71.25H-6.25z"/>
<path fill="#78b9fa" d="M-80 -68.75H-71.25V-63.75H-80zM-63.75 -73.75H-61.25V-66.25H-63.75zM-61.25 -71.25H-58.75V-66.25H-61.25zM-63.75 -63.75H-61.25V-61.25H-63.75zM-33.75 -63.75H-31.25V-56.25H-33.75zM-8.75 -66.25H-6.25V-63.75H-8.75zM-3.75 -71.25H-1.25V-68.75H-3.75z"/>
<path fill="#b4f0fa" d="M-73.75 -66.25H-71.25V-63.75H-73.75z"/>
<path fill="#3c96f5" d="M-31.25 -63.75H-18.75V-58.75H-31.25zM-31.25 -58.75H-28.75V-53.75H-31.25zM-3.75 -68.75H-1.25V-63.75H-3.75z"/>
<path fill="#1464d2" d="M-28.75 -61.25H-21.25V-58.75H-28.75zM-28.75 -58.75H-26.25V-56.25H-28.75z"/>
<use href="#coast"/>
</svg>
<rect class="fr" width="195" height="176"/>
<path class="tk" d="M-6 14.67H0M-6 44H0M-6 73.33H0M-6 102.67H0M-6 132H0M-6 161.33H0M0 176V181M48.75 176V181M97.5 176V181M146.25 176V181M195 176V181"/>
<g class="yl"><text x="-9" y="19.7">80N</text><text x="-9" y="49">70N</text><text x="-9" y="78.3">60N</text><text x="-9" y="107.7">50N</text><text x="-9" y="137">40N</text><text x="-9" y="166.3">30N</text></g>
<g class="xl"><text x="0" y="197">80W</text><text x="48.75" y="197">60W</text><text x="97.5" y="197">40W</text><text x="146.25" y="197">20W</text><text x="195" y="197">0</text></g>
</g>

<!-- ROW 6 RIGHT -->
<g transform="translate(1013,1471)">
<svg width="195" height="176" viewBox="-80 -85 80 60" preserveAspectRatio="none">
<path fill="#78b9fa" d="M-78.75 -66.25H-76.25V-61.25H-78.75z"/>
<path fill="#b4f0fa" d="M-76.25 -68.75H-73.75V-66.25H-76.25z"/>
<path fill="#ffe678" d="M-48.75 -58.75H-46.25V-56.25H-48.75z"/>
<path fill="#ffa000" d="M-46.25 -58.75H-41.25V-53.75H-46.25zM-48.75 -56.25H-46.25V-53.75H-48.75zM-38.75 -58.75H-36.25V-56.25H-38.75zM-36.25 -56.25H-33.75V-51.25H-36.25z"/>
<path fill="#ff3200" d="M-51.25 -56.25H-48.75V-53.75H-51.25zM-46.25 -53.75H-43.75V-51.25H-46.25zM-36.25 -51.25H-33.75V-48.75H-36.25zM-21.25 -56.25H-18.75V-53.75H-21.25z"/>
<path fill="#a00000" d="M-31.25 -58.75H-28.75V-53.75H-31.25zM-26.25 -53.75H-23.75V-51.25H-26.25z"/>
<use href="#coast"/>
</svg>
<rect class="fr" width="195" height="176"/>
<path class="tk" d="M-6 14.67H0M-6 44H0M-6 73.33H0M-6 102.67H0M-6 132H0M-6 161.33H0M0 176V181M48.75 176V181M97.5 176V181M146.25 176V181M195 176V181"/>
<g class="yl"><text x="-9" y="19.7">80N</text><text x="-9" y="49">70N</text><text x="-9" y="78.3">60N</text><text x="-9" y="107.7">50N</text><text x="-9" y="137">40N</text><text x="-9" y="166.3">30N</text></g>
<g class="xl"><text x="0" y="197">80W</text><text x="48.75" y="197">60W</text><text x="97.5" y="197">40W</text><text x="146.25" y="197">20W</text><text x="195" y="197">0</text></g>
</g>

<!-- ROW 7 LEFT -->
<g transform="translate(296,1715)">
<svg width="195" height="176" viewBox="-80 -85 80 60" preserveAspectRatio="none">
<path fill="#ffe678" d="M-80 -68.75H-71.25V-63.75H-80zM-61.25 -71.25H-58.75V-68.75H-61.25zM-63.75 -66.25H-56.25V-61.25H-63.75zM-61.25 -61.25H-53.75V-58.75H-61.25zM-53.75 -58.75H-48.75V-56.25H-53.75zM-41.25 -66.25H-33.75V-61.25H-41.25zM-31.25 -66.25H-23.75V-63.75H-31.25zM-41.25 -61.25H-38.75V-58.75H-41.25z"/>
<path fill="#ffa000" d="M-76.25 -68.75H-71.25V-63.75H-76.25zM-63.75 -73.75H-61.25V-68.75H-63.75zM-58.75 -63.75H-56.25V-61.25H-58.75zM-31.25 -68.75H-28.75V-66.25H-31.25zM-41.25 -58.75H-38.75V-56.25H-41.25z"/>
<path fill="#ff3c00" d="M-56.25 -63.75H-53.75V-61.25H-56.25zM-53.75 -56.25H-48.75V-53.75H-53.75z"/>
<path fill="#b4f0fa" d="M-61.25 -68.75H-56.25V-66.25H-61.25zM-33.75 -68.75H-31.25V-63.75H-33.75zM-23.75 -66.25H-21.25V-63.75H-23.75zM-33.75 -63.75H-23.75V-61.25H-33.75zM-38.75 -61.25H-36.25V-56.25H-38.75zM-26.25 -61.25H-21.25V-58.75H-26.25z"/>
<path fill="#50a5f5" d="M-76.25 -61.25H-73.75V-58.75H-76.25zM-56.25 -58.75H-53.75V-53.75H-56.25zM-23.75 -63.75H-21.25V-61.25H-23.75zM-36.25 -61.25H-26.25V-58.75H-36.25zM-36.25 -58.75H-33.75V-56.25H-36.25z"/>
<path fill="#1464d2" d="M-21.25 -63.75H-18.75V-61.25H-21.25zM-33.75 -58.75H-26.25V-56.25H-33.75zM-31.25 -56.25H-28.75V-53.75H-31.25zM-16.25 -68.75H-6.25V-63.75H-16.25zM-13.75 -73.75H-11.25V-68.75H-13.75zM-11.25 -71.25H-8.75V-68.75H-11.25zM-6.25 -76.25H-3.75V-71.25H-6.25zM-3.75 -71.25H-1.25V-63.75H-3.75zM-3.75 -58.75H-1.25V-53.75H-3.75z"/>
<use href="#coast"/>
</svg>
<rect class="fr" width="195" height="176"/>
<path class="tk" d="M-6 14.67H0M-6 44H0M-6 73.33H0M-6 102.67H0M-6 132H0M-6 161.33H0M0 176V181M48.75 176V181M97.5 176V181M146.25 176V181M195 176V181"/>
<g class="yl"><text x="-9" y="19.7">80N</text><text x="-9" y="49">70N</text><text x="-9" y="78.3">60N</text><text x="-9" y="107.7">50N</text><text x="-9" y="137">40N</text><text x="-9" y="166.3">30N</text></g>
<g class="xl"><text x="0" y="197">80W</text><text x="48.75" y="197">60W</text><text x="97.5" y="197">40W</text><text x="146.25" y="197">20W</text><text x="195" y="197">0</text></g>
</g>

<!-- ROW 7 RIGHT -->
<g transform="translate(1013,1715)">
<svg width="195" height="176" viewBox="-80 -85 80 60" preserveAspectRatio="none">
<path fill="#ffa000" d="M-78.75 -66.25H-76.25V-61.25H-78.75zM-76.25 -68.75H-73.75V-66.25H-76.25z"/>
<path fill="#ffe678" d="M-51.25 -56.25H-48.75V-53.75H-51.25z"/>
<path fill="#b4f0fa" d="M-48.75 -58.75H-41.25V-53.75H-48.75zM-46.25 -53.75H-43.75V-51.25H-46.25z"/>
<path fill="#50a5f5" d="M-43.75 -58.75H-41.25V-56.25H-43.75z"/>
<path fill="#1464d2" d="M-38.75 -58.75H-36.25V-56.25H-38.75zM-36.25 -56.25H-33.75V-48.75H-36.25zM-31.25 -58.75H-28.75V-53.75H-31.25zM-26.25 -53.75H-23.75V-51.25H-26.25zM-21.25 -56.25H-18.75V-53.75H-21.25z"/>
<use href="#coast"/>
</svg>
<rect class="fr" width="195" height="176"/>
<path class="tk" d="M-6 14.67H0M-6 44H0M-6 73.33H0M-6 102.67H0M-6 132H0M-6 161.33H0M0 176V181M48.75 176V181M97.5 176V181M146.25 176V181M195 176V181"/>
<g class="yl"><text x="-9" y="19.7">80N</text><text x="-9" y="49">70N</text><text x="-9" y="78.3">60N</text><text x="-9" y="107.7">50N</text><text x="-9" y="137">40N</text><text x="-9" y="166.3">30N</text></g>
<g class="xl"><text x="0" y="197">80W</text><text x="48.75" y="197">60W</text><text x="97.5" y="197">40W</text><text x="146.25" y="197">20W</text><text x="195" y="197">0</text></g>
</g>

<!-- COLORBAR 1 -->
<polygon points="722,303 731,265 740,303" fill="#a50000"/>
<rect x="722" y="303" width="18" height="41" fill="#e11400"/>
<rect x="722" y="344" width="18" height="39.5" fill="#ff6400"/>
<rect x="722" y="383.5" width="18" height="39.5" fill="#ffa000"/>
<rect x="722" y="423" width="18" height="39" fill="#ffc03c"/>
<rect x="722" y="462" width="18" height="40" fill="#fffaaa"/>
<path class="cbk" d="M722 303V502M722 344H740M722 383.5H740M722 423H740M722 462H740M722 502H740M722 502L731 542"/>
<g class="cbl"><text x="745" y="308">1</text><text x="745" y="349">0.8</text><text x="745" y="388.5">0.6</text><text x="745" y="428">0.4</text><text x="745" y="467">0.2</text><text x="745" y="507">0.1</text></g>

<!-- COLORBAR 2 -->
<path d="M722 685L731 646" stroke="#000" stroke-width="1.3" stroke-dasharray="3,2"/>
<rect x="722" y="687" width="18" height="39" fill="#fffaaa"/>
<rect x="722" y="726" width="18" height="39.5" fill="#ffa000"/>
<rect x="722" y="765.5" width="18" height="39.5" fill="#ff6400"/>
<rect x="722" y="805" width="18" height="40" fill="#e11400"/>
<polygon points="722,845 731,883 740,845" fill="#a50000"/>
<path class="cbk" d="M722 687V845M722 726H740M722 765.5H740M722 805H740M722 845H740"/>
<g class="cbl"><text x="745" y="692">1000</text><text x="745" y="731">995</text><text x="745" y="770.5">990</text><text x="745" y="810">985</text><text x="745" y="850">980</text></g>

<!-- COLORBAR 3 -->
<polygon points="722,929 731,890 740,929" fill="#a50000"/>
<rect x="722" y="929" width="18" height="40" fill="#e11400"/>
<rect x="722" y="969" width="18" height="39" fill="#ff6400"/>
<rect x="722" y="1008" width="18" height="40" fill="#ffa000"/>
<rect x="722" y="1048" width="18" height="39" fill="#ffc03c"/>
<rect x="722" y="1087" width="18" height="40" fill="#fffaaa"/>
<path class="cbk" d="M722 929V1127M722 969H740M722 1008H740M722 1048H740M722 1087H740M722 1127H740M722 1127L731 1165"/>
<g class="cbl"><text x="745" y="934">5</text><text x="745" y="974">4</text><text x="745" y="1013">3</text><text x="745" y="1053">2</text><text x="745" y="1092">1</text><text x="745" y="1132">0</text></g>

<!-- COLORBAR 4 -->
<polygon points="734,1235 743,1195 752,1235" fill="#ff3c00"/>
<rect x="734" y="1235" width="18" height="39" fill="#ffa000"/>
<rect x="734" y="1274" width="18" height="39" fill="#ffe678"/>
<rect x="734" y="1313" width="18" height="39.5" fill="#b4f0fa"/>
<rect x="734" y="1352.5" width="18" height="39.5" fill="#50a5f5"/>
<polygon points="734,1392 743,1431 752,1392" fill="#1464d2"/>
<path class="cbk" d="M734 1235V1392M734 1274H752M734 1313H752M734 1352.5H752M734 1392H752"/>
<g class="cbl"><text x="757" y="1240">0.2</text><text x="757" y="1279">0.1</text><text x="757" y="1318">0</text><text x="757" y="1357.5">-0.1</text><text x="757" y="1397">-0.2</text></g>

<!-- COLORBAR 5 -->
<polygon points="699,1443 708,1404 717,1443" fill="#a00000"/>
<rect x="699" y="1443" width="18" height="38.5" fill="#ff3200"/>
<rect x="699" y="1481.5" width="18" height="38.5" fill="#ffa000"/>
<rect x="699" y="1520" width="18" height="39" fill="#ffe678"/>
<rect x="699" y="1559" width="18" height="38" fill="#b4f0fa"/>
<rect x="699" y="1597" width="18" height="39" fill="#78b9fa"/>
<rect x="699" y="1636" width="18" height="39" fill="#3c96f5"/>
<polygon points="699,1675 708,1712 717,1675" fill="#1464d2"/>
<path class="cbk" d="M699 1443V1675M699 1481.5H717M699 1559H717M699 1636H717M699 1675H717"/>
<g class="cbl"><text x="722" y="1448">6</text><text x="722" y="1486.5">4</text><text x="722" y="1525">2</text><text x="722" y="1564">0</text><text x="722" y="1602">-2</text><text x="722" y="1641">-4</text><text x="722" y="1680">-6</text></g>

<!-- COLORBAR 6 -->
<polygon points="734,1726.5 743,1687 752,1726.5" fill="#ff3c00"/>
<rect x="734" y="1726.5" width="18" height="38.5" fill="#ffa000"/>
<rect x="734" y="1765" width="18" height="38.5" fill="#ffe678"/>
<rect x="734" y="1803.5" width="18" height="38.5" fill="#b4f0fa"/>
<rect x="734" y="1842" width="18" height="38.5" fill="#50a5f5"/>
<polygon points="734,1880.5 743,1919 752,1880.5" fill="#1464d2"/>
<path class="cbk" d="M734 1726.5V1880.5M734 1803.5H752M734 1880.5H752"/>
<g class="cbl"><text x="757" y="1731.5">0.4</text><text x="757" y="1770">0.2</text><text x="757" y="1808.5">0</text><text x="757" y="1847">-0.2</text><text x="757" y="1885.5">-0.4</text></g>
</svg>
</body></html>
